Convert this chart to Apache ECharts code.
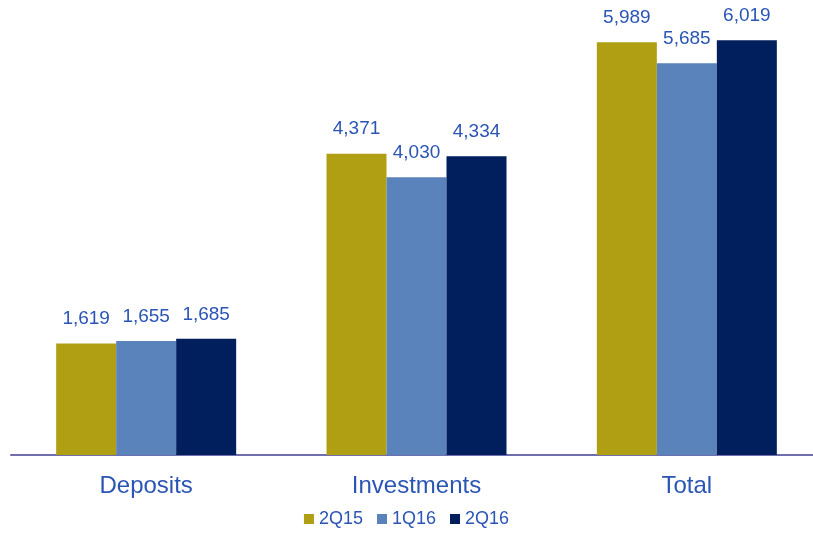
<!DOCTYPE html>
<html>
<head>
<meta charset="utf-8">
<script src="https://cdn.jsdelivr.net/npm/echarts@6/dist/echarts.min.js"></script>
<style>
  html, body { margin: 0; padding: 0; background: #fff; }
  #chart { width: 813px; height: 536px; }
</style>
</head>
<body>
<div id="chart"></div>
<script>
// Categories and quarterly values
const categories = ['Deposits', 'Investments', 'Total'];
const seriesNames = ['2Q15', '1Q16', '2Q16'];
const values2Q15 = [1619, 4371, 5989];
const values1Q16 = [1655, 4030, 5685];
const values2Q16 = [1685, 4334, 6019];
const seriesColors = ['#b09f12', '#5a82bb', '#001f5c'];

const labelColor = '#2a55b5';
const fontFamily = 'Liberation Sans, Arial, sans-serif';

const chart = echarts.init(document.getElementById('chart'), null, { renderer: 'canvas' });

function makeSeries(name, data, color) {
  return {
    name: name,
    type: 'bar',
    data: data,
    barWidth: 60,
    barGap: '0%',
    itemStyle: { color: color },
    label: {
      show: true,
      position: 'top',
      distance: 15,
      color: labelColor,
      fontSize: 19,
      fontFamily: fontFamily,
      formatter: p => p.value.toLocaleString('en-US')
    }
  };
}

chart.setOption({
  animation: false,
  grid: {
    left: 11, top: 7, width: 811, bottom: 81,
    containLabel: false,
    outerBoundsMode: 'none'
  },
  legend: {
    bottom: 3,
    left: 'center',
    itemWidth: 10,
    itemHeight: 10,
    itemGap: 14,
    icon: 'rect',
    textStyle: { color: labelColor, fontSize: 18, fontFamily: fontFamily },
    data: seriesNames
  },
  xAxis: {
    type: 'category',
    data: categories,
    axisLine: { show: true, lineStyle: { color: '#6f6fb0', width: 2 } },
    axisTick: { show: false },
    axisLabel: { color: labelColor, fontSize: 24, fontFamily: fontFamily, margin: 19 }
  },
  yAxis: {
    type: 'value',
    min: 0,
    max: 6500,
    show: false,
    splitLine: { show: false }
  },
  series: [
    makeSeries(seriesNames[0], values2Q15, seriesColors[0]),
    makeSeries(seriesNames[1], values1Q16, seriesColors[1]),
    makeSeries(seriesNames[2], values2Q16, seriesColors[2])
  ]
});
</script>
</body>
</html>
